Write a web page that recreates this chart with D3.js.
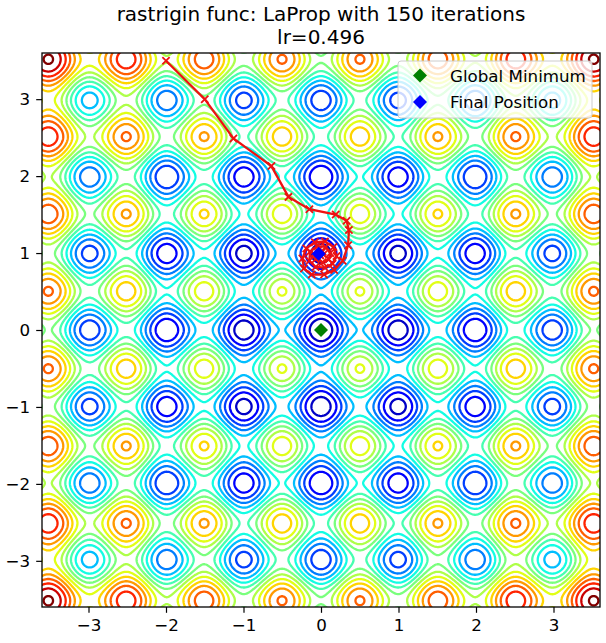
<!DOCTYPE html>
<html>
<head>
<meta charset="utf-8">
<script src="https://cdn.jsdelivr.net/npm/d3@7"></script>
<style>
  body { margin: 0; background: #fff; }
  svg { display: block; font-family: "DejaVu Sans", sans-serif; }
</style>
</head>
<body>
<div id="chart"></div>
<script>
// contour levels of the rastrigin surface, about 4 apart
const levels = [3.9, 7.9, 11.9, 15.9, 19.9, 23.9, 27.9, 31.9, 35.9, 39.9, 43.9, 47.9, 51.9, 55.9, 59.9, 63.9];
const levelMin = 0, levelMax = 64;

const xTicks = [-3, -2, -1, 0, 1, 2, 3];
const yTicks = [-3, -2, -1, 0, 1, 2, 3];

// optimizer path
const pathX = [-2.0, -1.5, -1.13, -0.64, -0.42, -0.15, 0.19, 0.33, 0.36, 0.35, 0.28,
  0.17, 0.04, -0.12, -0.22, -0.24, -0.19, -0.08, 0.05, 0.16, 0.2, 0.15, 0.05, -0.07,
  -0.15, -0.14, -0.05, 0.06, 0.12, 0.1, 0.02, -0.07, -0.09, -0.04, 0.02, 0.03, -0.01, -0.03];
const pathY = [3.5, 3.0, 2.49, 2.13, 1.73, 1.57, 1.5, 1.42, 1.3, 1.1, 0.9,
  0.78, 0.72, 0.72, 0.8, 0.93, 1.06, 1.14, 1.15, 1.08, 0.96, 0.86, 0.81, 0.82,
  0.9, 1.02, 1.09, 1.08, 1.0, 0.92, 0.88, 0.92, 0.99, 1.03, 1.02, 0.98, 0.97, 0.99];

const globalMin = [0, 0];
const finalPos = [-0.03, 0.99];

const titleLines = ["rastrigin func: LaProp with 150 iterations", "lr=0.496"];
const legendLabels = ["Global Minimum", "Final Position"];
const legendColors = ["green", "blue"];

const width = 606, height = 643;
const marginLeft = 42, marginRight = 6, marginTop = 53, marginBottom = 36;
const domainLim = 3.6;

const svg = d3.select("#chart").append("svg")
  .attr("width", width)
  .attr("height", height);

const x = d3.scaleLinear([-domainLim, domainLim], [marginLeft, width - marginRight]);
const y = d3.scaleLinear([-domainLim, domainLim], [height - marginBottom, marginTop]);

// jet colormap (matplotlib segment data)
const jetR = d3.scaleLinear([0, 0.35, 0.66, 0.89, 1], [0, 0, 1, 1, 0.5]).clamp(true);
const jetG = d3.scaleLinear([0, 0.125, 0.375, 0.64, 0.91, 1], [0, 0, 1, 1, 0, 0]).clamp(true);
const jetB = d3.scaleLinear([0, 0.11, 0.34, 0.65, 1], [0.5, 1, 1, 0, 0]).clamp(true);
const norm = d3.scaleLinear([levelMin, levelMax], [0, 1]);
const jet = v => {
  const t = norm(v);
  return d3.rgb(jetR(t) * 255, jetG(t) * 255, jetB(t) * 255).formatHex();
};

// sample the rastrigin function a bit beyond the axes, then clip
const rastrigin = (a, b) => 20 + a * a - 10 * Math.cos(2 * Math.PI * a) + b * b - 10 * Math.cos(2 * Math.PI * b);
const step = 0.015;
const g0 = -3.75;
const n = Math.round((2 * -g0) / step) + 1;
const values = new Float64Array(n * n);
for (let j = 0; j < n; j++) {
  for (let i = 0; i < n; i++) {
    values[i + j * n] = rastrigin(g0 + i * step, g0 + j * step);
  }
}

const contours = d3.contours().size([n, n]).thresholds(levels)(values);

const proj = d3.geoTransform({
  point: function(px, py) {
    this.stream.point(x(g0 + (px - 0.5) * step), y(g0 + (py - 0.5) * step));
  }
});
const geo = d3.geoPath(proj);

svg.append("clipPath").attr("id", "clip")
  .append("rect")
  .attr("x", x(-domainLim)).attr("y", y(domainLim))
  .attr("width", x(domainLim) - x(-domainLim))
  .attr("height", y(-domainLim) - y(domainLim));

const plot = svg.append("g").attr("clip-path", "url(#clip)");

plot.append("g")
  .selectAll("path")
  .data(contours)
  .join("path")
  .attr("d", geo)
  .attr("fill", "none")
  .attr("stroke", d => jet(d.value))
  .attr("stroke-width", 2.3)
  .attr("stroke-linejoin", "round");

// optimizer path
const pts = pathX.map((v, i) => [v, pathY[i]]);
const line = d3.line().x(d => x(d[0])).y(d => y(d[1]));

plot.append("path")
  .attr("d", line(pts))
  .attr("fill", "none")
  .attr("stroke", "#ee1111")
  .attr("stroke-width", 2.3);

plot.append("g")
  .selectAll("path")
  .data(pts)
  .join("path")
  .attr("transform", d => `translate(${x(d[0])},${y(d[1])})`)
  .attr("d", d3.symbol(d3.symbolTimes, 36))
  .attr("fill", "none")
  .attr("stroke", "#ee1111")
  .attr("stroke-width", 1.8);

const diamond = d3.symbol(d3.symbolSquare, 98);
plot.append("path")
  .attr("transform", `translate(${x(globalMin[0])},${y(globalMin[1])}) rotate(45)`)
  .attr("d", diamond)
  .attr("fill", "green");
plot.append("path")
  .attr("transform", `translate(${x(finalPos[0])},${y(finalPos[1])}) rotate(45)`)
  .attr("d", diamond)
  .attr("fill", "blue");

// axes
const xAxis = svg.append("g")
  .attr("transform", `translate(0,${height - marginBottom})`)
  .call(d3.axisBottom(x).tickValues(xTicks).tickSize(5.8).tickPadding(6).tickFormat(d3.format("d")));
const yAxis = svg.append("g")
  .attr("transform", `translate(${marginLeft},0)`)
  .call(d3.axisLeft(y).tickValues(yTicks).tickSize(5.8).tickPadding(6).tickFormat(d3.format("d")));

[xAxis, yAxis].forEach(ax => {
  ax.select(".domain").remove();
  ax.selectAll("text").attr("font-size", 16.7).attr("font-family", "DejaVu Sans").attr("fill", "#000");
  ax.selectAll(".tick line").attr("stroke", "#000").attr("stroke-width", 1.2);
});

svg.append("rect")
  .attr("x", x(-domainLim)).attr("y", y(domainLim))
  .attr("width", x(domainLim) - x(-domainLim))
  .attr("height", y(-domainLim) - y(domainLim))
  .attr("fill", "none")
  .attr("stroke", "#000")
  .attr("stroke-width", 1.3);

// title
svg.append("g")
  .selectAll("text")
  .data(titleLines)
  .join("text")
  .attr("x", (x(-domainLim) + x(domainLim)) / 2)
  .attr("y", (d, i) => 21 + i * 23)
  .attr("text-anchor", "middle")
  .attr("font-size", 20)
  .attr("fill", "#000")
  .text(d => d);

// legend
const legend = svg.append("g").attr("transform", "translate(398,61)");
legend.append("rect")
  .attr("width", 194).attr("height", 57)
  .attr("rx", 3)
  .attr("fill", "#fff").attr("fill-opacity", 0.8)
  .attr("stroke", "#ccc");
legendLabels.forEach((lab, i) => {
  legend.append("path")
    .attr("transform", `translate(22,${14.5 + i * 26.5}) rotate(45)`)
    .attr("d", diamond)
    .attr("fill", legendColors[i]);
  legend.append("text")
    .attr("x", 52).attr("y", 20.5 + i * 26.5)
    .attr("font-size", 16.7)
    .attr("fill", "#000")
    .text(lab);
});
</script>
</body>
</html>
